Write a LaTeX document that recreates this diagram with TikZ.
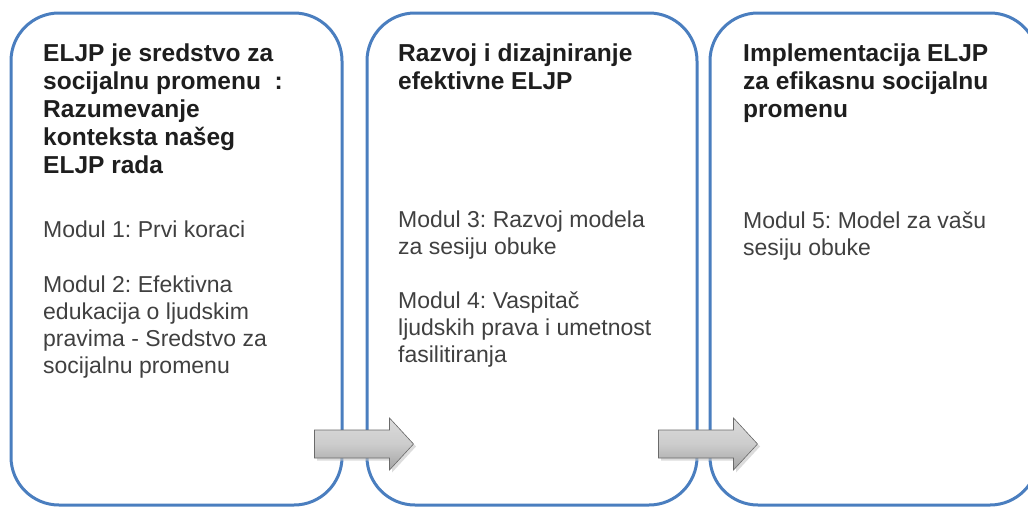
\documentclass[tikz,border=0pt]{standalone}
\usepackage{fontspec}
\setmainfont{Liberation Sans}
\frenchspacing
\definecolor{boxblue}{HTML}{4A7EBF}
\definecolor{txt}{HTML}{1E1E1E}
\definecolor{arrowedge}{HTML}{6A6A6A}
\newcommand{\ttlfont}{\fontsize{24.5}{28}\selectfont\bfseries}
\newcommand{\bdyfont}{\fontsize{23}{27.2}\selectfont}
\tikzset{
  stagebox/.style={draw=boxblue, line width=3pt, rounded corners=48pt, fill=white, inner sep=0pt},
  ttl/.style={anchor=base west, inner sep=0pt, text=txt, font=\ttlfont},
  bdy/.style={anchor=base west, inner sep=0pt, text=txt!85!white, font=\bdyfont},
  blockarrow/.style={draw=arrowedge, line width=0.6pt, top color=gray!28, bottom color=gray!72, middle color=gray!40},
  arrowshadow/.style={fill=gray!45, opacity=0.6}
}
\begin{document}
\begin{tikzpicture}[x=1pt, y=-1pt]
\useasboundingbox (0,0) rectangle (1028,507);
% boxes
\node[stagebox, minimum width=331pt, minimum height=492pt] (b1) at (176.5,259) {};
\node[stagebox, minimum width=330pt, minimum height=492pt] (b2) at (532,259) {};
\node[stagebox, minimum width=328pt, minimum height=492pt] (b3) at (874,259) {};
% texts box 1
\node[ttl] (t1) at (43,61) {\vtop{\hbox{ELJP je sredstvo za}\hbox{socijalnu promenu\ \ :}\hbox{Razumevanje}\hbox{konteksta našeg}\hbox{ELJP rada}}};
\node[bdy] (m1) at (43,237) {\vtop{\hbox{Modul 1: Prvi koraci}}};
\node[bdy] (m2) at (43,292) {\vtop{\hbox{Modul 2: Efektivna}\hbox{edukacija o ljudskim}\hbox{pravima - Sredstvo za}\hbox{socijalnu promenu}}};
% texts box 2
\node[ttl] (t2) at (398,61) {\vtop{\hbox{Razvoj i dizajniranje}\hbox{efektivne ELJP}}};
\node[bdy] (m3) at (398,227) {\vtop{\hbox{Modul 3: Razvoj modela}\hbox{za sesiju obuke}}};
\node[bdy] (m4) at (398,308) {\vtop{\hbox{Modul 4: Vaspitač}\hbox{ljudskih prava i umetnost}\hbox{fasilitiranja}}};
% texts box 3
\node[ttl] (t3) at (743,61) {\vtop{\hbox{Implementacija ELJP}\hbox{za efikasnu socijalnu}\hbox{promenu}}};
\node[bdy] (m5) at (743,228) {\vtop{\hbox{Modul 5: Model za vašu}\hbox{sesiju obuke}}};
% block arrows between boxes (start points of the shafts)
\coordinate (a1s) at ([xshift=-29pt]b1.east |- 0,430);
\coordinate (a2s) at ([xshift=-40pt]b2.east |- 0,430);
\foreach \c in {a1s, a2s}{
  \fill[arrowshadow] ([shift={(2.5,2.5)}]\c) -- ++(75,0) -- ++(0,-12) -- ++(24,26) -- ++(-24,26) -- ++(0,-12) -- ++(-75,0) -- cycle;
  \draw[blockarrow] (\c) -- ++(75,0) -- ++(0,-12) -- ++(24,26) -- ++(-24,26) -- ++(0,-12) -- ++(-75,0) -- cycle;
}
\end{tikzpicture}
\end{document}
